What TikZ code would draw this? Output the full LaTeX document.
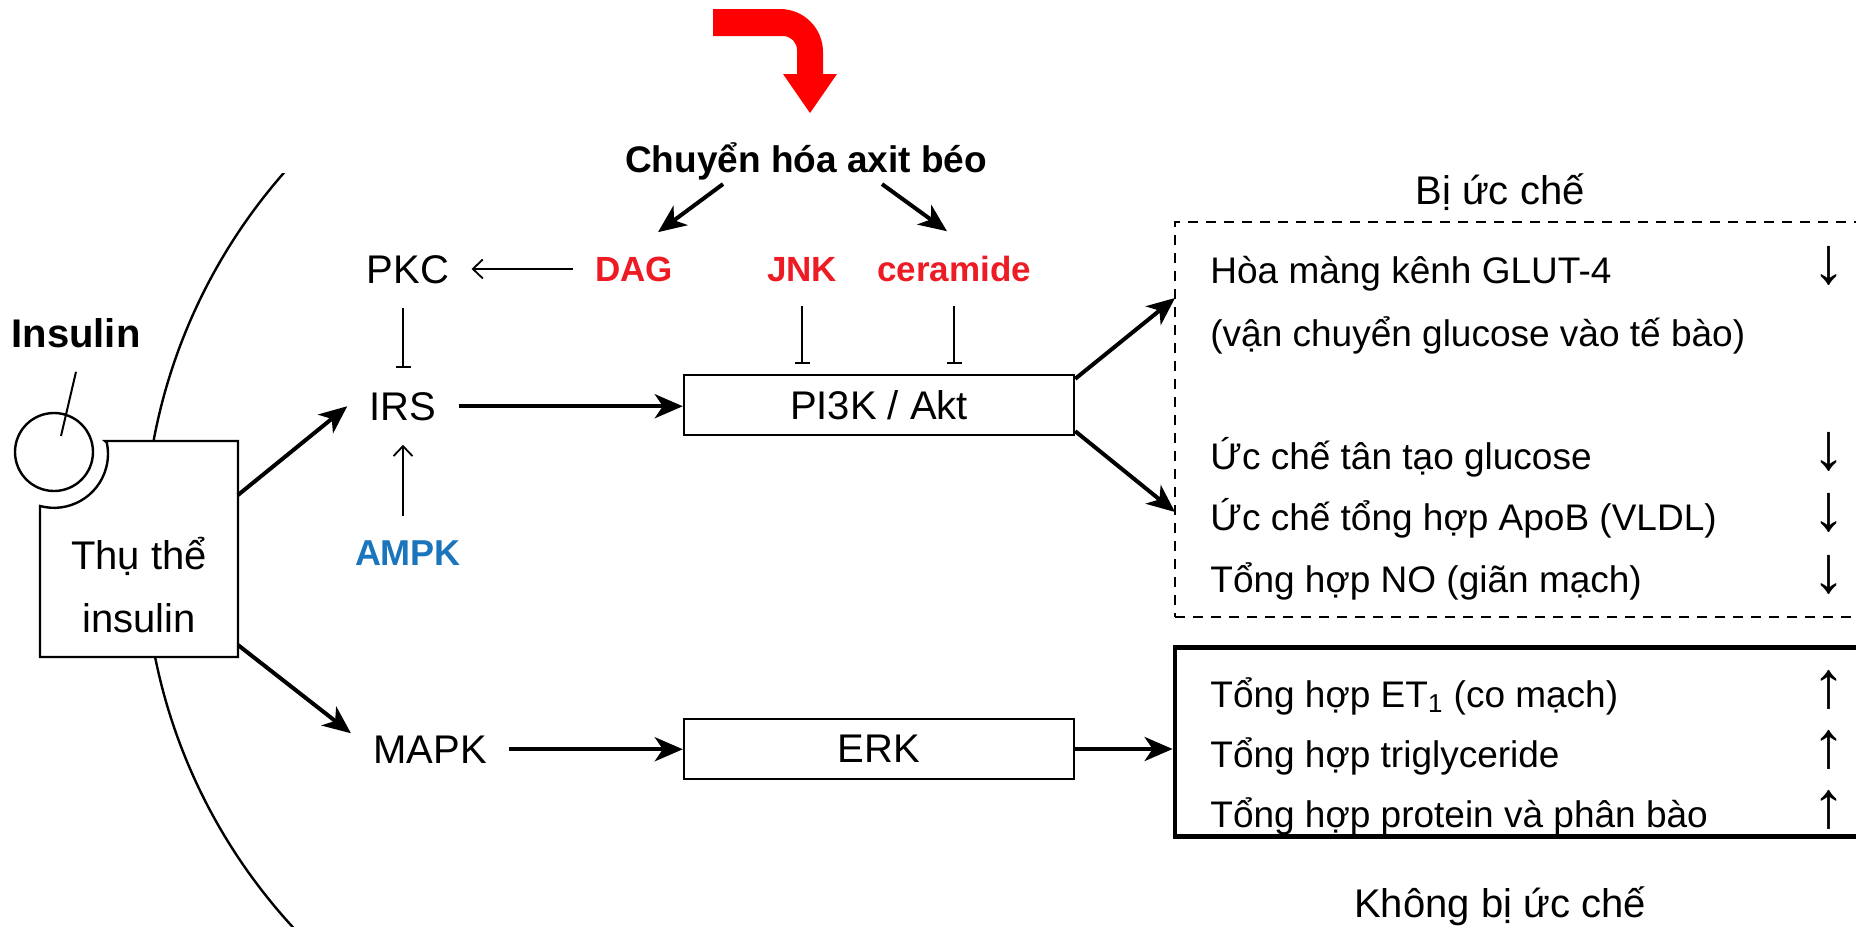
\documentclass[tikz,border=0pt]{standalone}
\usepackage{fontspec}
\setmainfont{Liberation Sans}
\usetikzlibrary{arrows.meta,positioning,calc}
\definecolor{lipid}{HTML}{ED1C24}
\definecolor{energy}{HTML}{1B75BC}
\definecolor{alarm}{HTML}{FF0000}
\newcommand{\sz}[1]{\fontsize{#1}{#1}\selectfont}

\begin{document}
\begin{tikzpicture}[x=0.5pt, y=-0.5pt,
    every node/.style={font=\sz{20pt}, inner xsep=11pt, inner ysep=12pt},
    lbl/.style={anchor=base},
    fatty/.style={font=\sz{17.5pt}\bfseries, text=lipid},
    stage/.style={draw, line width=1.2pt, minimum width=195pt, minimum height=30pt, inner sep=0pt},
    sig/.style={line width=2pt, -{Stealth[length=14pt, width=12pt, inset=4pt]}},
    weak/.style={line width=0.9pt, -{Straight Barb[length=5pt, width=9.5pt]}},
    block/.style={line width=0.9pt, -{Bar[width=7.5pt]}},
    effect/.style={anchor=base west, inner sep=0pt, font=\sz{18.5pt}},
    trend/.style={anchor=base, inner sep=0pt, font=\sz{33pt}}]
  \useasboundingbox (0,0) rectangle (1856,926);

  \fill[alarm] (713,9) -- (780,9) arc[start angle=90, end angle=0, radius=21.5pt] -- (823,74) -- (837,74)
    -- (810,113) -- (783,74) -- (797,74) -- (797,50) arc[start angle=0, end angle=90, radius=7pt] -- (713,36) -- cycle;

  \begin{scope}
    \clip (0,173) rectangle (400,926);
    \draw[line width=1.2pt] (709,545) circle[radius=282.5pt];
  \end{scope}
  \draw[line width=1.2pt, fill=white] (105,441) -- (238,441) -- (238,657) -- (40,657) -- (40,506)
    arc[start angle=255, end angle=372, radius=27pt] -- cycle;
  \node[circle, draw, line width=1.2pt, minimum size=39pt, inner sep=0pt] (ligand) at (54,452) {};
  \node[lbl, align=center, font=\fontsize{20pt}{31.5pt}\selectfont] (receptor) at (139,632) {Thụ thể\\insulin};
  \node[lbl, font=\sz{20pt}\bfseries] (insulin) at (76,347) {Insulin};
  \coordinate (bind) at (61,436);
  \draw[line width=1pt] (insulin.south) -- (bind);

  \node[lbl] (pkc) at (408,283) {PKC};
  \node[lbl] (irs) at (403,420) {IRS};
  \node[lbl, font=\sz{18pt}\bfseries, text=energy] (ampk) at (408,565) {AMPK};
  \node[lbl] (mapk) at (430,763) {MAPK};
  \node[lbl, fatty] (dag) at (634,281) {DAG};
  \node[lbl, fatty] (jnk) at (802,281) {JNK};
  \node[lbl, fatty] (cer) at (954,281) {ceramide};
  \node[lbl, font=\sz{18.5pt}\bfseries, inner ysep=2pt] (fatox) at (806,172) {Chuyển hóa axit béo};
  \node[stage] (pi3k) at (879,405) {PI3K / Akt};
  \node[stage] (erk) at (879,749) {ERK};

  \coordinate (recup) at (238,495);
  \coordinate (recdown) at (238,645);
  \draw[sig] (recup) -- (irs.west);
  \draw[sig] (recdown) -- ([yshift=8pt]mapk.west);
  \draw[sig] (irs.east) -- (irs.east -| pi3k.west);
  \draw[sig] (mapk.east) -- (mapk.east -| erk.west);
  \draw[sig] ([xshift=-41.5pt]fatox.south) -- ([xshift=12pt]dag.north);
  \draw[sig] ([xshift=38pt]fatox.south) -- ([xshift=-3.5pt]cer.north);
  \draw[weak] (dag.west) -- (dag.west -| pkc.east);
  \draw[weak] (ampk.north -| irs.south) -- (irs.south);
  \draw[block] (pkc.south -| irs.north) -- (irs.north);
  \draw[block, shorten >=5pt] (jnk.south) -- (jnk.south |- pi3k.north);
  \draw[block, shorten >=5pt] (cer.south) -- (cer.south |- pi3k.north);

  \node[draw, dash pattern=on 5pt off 4pt, line width=0.9pt, minimum width=352.5pt, minimum height=197.5pt, inner sep=0pt] (dashbox) at (1527.5,419.5) {};
  \node[draw, line width=2.4pt, minimum width=352.5pt, minimum height=94.5pt, inner sep=0pt] (solidbox) at (1527.5,742) {};
  \node[lbl] (inhib) at (1500,204) {Bị ức chế};
  \node[lbl] (noinhib) at (1500,917) {Không bị ức chế};

  \foreach \y/\t/\a [count=\i] in {283/{Hòa màng kênh GLUT-4}/↓, 346/{(vận chuyển glucose vào tế bào)}/{}, 469/{Ức chế tân tạo glucose}/↓, 530/{Ức chế tổng hợp ApoB (VLDL)}/↓, 592/{Tổng hợp NO (giãn mạch)}/↓}{
    \node[effect] (inh\i) at (1210,\y) {\t};
    \node[trend] (inhtrend\i) at (1829,\y) {\a};
  }
  \foreach \y/\t [count=\i] in {707/{Tổng hợp ET\textsubscript{1} (co mạch)}, 767/{Tổng hợp triglyceride}, 827/{Tổng hợp protein và phân bào}}{
    \node[effect] (act\i) at (1210,\y) {\t};
    \node[trend] (acttrend\i) at (1829,\y) {↑};
  }

  \coordinate (glutin) at (1175,298);
  \coordinate (liverin) at (1175,512);
  \draw[sig] ([yshift=-2.5pt]pi3k.north east) -- (glutin);
  \draw[sig] ([yshift=2.5pt]pi3k.south east) -- (liverin);
  \draw[sig] (erk.east) -- (erk.east -| solidbox.west);
\end{tikzpicture}
\end{document}
